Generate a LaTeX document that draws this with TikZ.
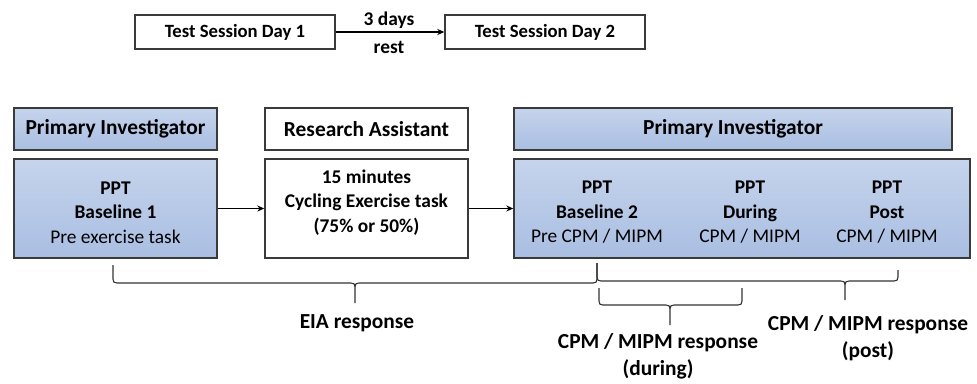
\documentclass[tikz,border=0pt]{standalone}
\usepackage{fontspec}
\setmainfont{Carlito}
\usetikzlibrary{arrows.meta}

\definecolor{boxline}{HTML}{3A3A3A}
\definecolor{shadetop}{HTML}{C6D4EC}
\definecolor{shademid}{HTML}{E4EBF6}
\definecolor{shadebot}{HTML}{A9BEE2}

\tikzset{
  plainbox/.style={draw=boxline, line width=1.4pt, fill=white, inner sep=0pt,
    minimum height=#1, align=center, font=\fontsize{18.7}{24.5}\selectfont},
  plainbox/.default=34pt,
  bluebox/.style={plainbox=#1, fill=none, top color=shadetop, middle color=shademid, bottom color=shadebot},
  bluebox/.default=42pt,
  header/.style={font=\fontsize{21.4}{26}\selectfont\bfseries},
  txt/.style={inner sep=0pt, align=center, font=\fontsize{19.4}{24.5}\selectfont},
  big/.style={inner sep=0pt, align=center, font=\fontsize{21.4}{27}\selectfont\bfseries},
  flow/.style={line width=1.3pt, -{Stealth[length=7pt,width=6pt]}},
  bracestyle/.style={draw=black!80, line width=1.1pt}
}

% horizontal brace: left x, right x, left top y, right top y, bar y, tip x, tip y
\newcommand\hbrace[7]{%
  \draw[bracestyle] (#1,#3) -- (#1,#5-4)
    .. controls (#1,#5-1) and (#1+1,#5) .. (#1+4,#5) -- (#6-4,#5)
    .. controls (#6-1,#5) and (#6,#5+1) .. (#6,#5+4) -- (#6,#7)
    (#6,#5+4) .. controls (#6,#5+1) and (#6+1,#5) .. (#6+4,#5) -- (#2-4,#5)
    .. controls (#2-1,#5) and (#2,#5-1) .. (#2,#5-4) -- (#2,#4);}

\begin{document}
\begin{tikzpicture}[x=1pt, y=-1pt]
\useasboundingbox (0,0) rectangle (977,383);

% session timeline
\node[plainbox, minimum width=200pt] (day1) at (235,32) {\bfseries Test Session Day 1};
\node[plainbox, minimum width=200pt] (day2) at (545,32) {\bfseries Test Session Day 2};
\draw[flow] (day1.east) -- (day2.west);
\node[txt] (restA) at (389,20) {\bfseries 3 days};
\node[txt] (restB) at (389,47) {\bfseries rest};

% role headers
\node[bluebox, header, minimum width=203pt] (pi1) at (115.5,129) {Primary Investigator};
\node[plainbox=42pt, header, minimum width=203pt] (ra) at (366.5,129) {Research Assistant};
\node[bluebox, header, minimum width=438pt] (pi2) at (733,129) {Primary Investigator};

% protocol stages
\node[bluebox=99pt, minimum width=203pt] (base1) at (115.5,208.5) {};
\node[txt] (base1txt) at (115.5,212.5) {\bfseries PPT\\ \bfseries Baseline 1\\ Pre exercise task};
\node[plainbox=99pt, minimum width=203pt] (ex) at (366.5,208.5) {};
\node[txt] (extxt) at (366.5,202.5) {\bfseries 15 minutes\\ \bfseries Cycling Exercise task\\ \bfseries (75\% or 50\%)};
\node[bluebox=99pt, minimum width=456pt] (main) at (742,208.5) {};
\node[txt] (base2) at (597,212.5) {\bfseries PPT\\ \bfseries Baseline 2\\ Pre CPM / MIPM};
\node[txt] (during) at (750,212.5) {\bfseries PPT\\ \bfseries During\\ CPM / MIPM};
\node[txt] (post) at (887,212.5) {\bfseries PPT\\ \bfseries Post\\ CPM / MIPM};

\draw[flow] (base1.east) -- (ex.west);
\draw[flow] (ex.east) -- (ex.east -| main.west);

% response braces
\hbrace{113}{597}{265}{263}{283}{355}{303}
\hbrace{597}{898}{263}{270}{281}{845}{300}
\hbrace{599}{742}{288}{288}{305}{670}{325}

\node[big] (eia) at (357,323) {EIA response};
\node[big] (respdur) at (658,356.5) {CPM / MIPM response\\ (during)};
\node[big] (resppost) at (868,338.5) {CPM / MIPM response\\ (post)};
\end{tikzpicture}
\end{document}
